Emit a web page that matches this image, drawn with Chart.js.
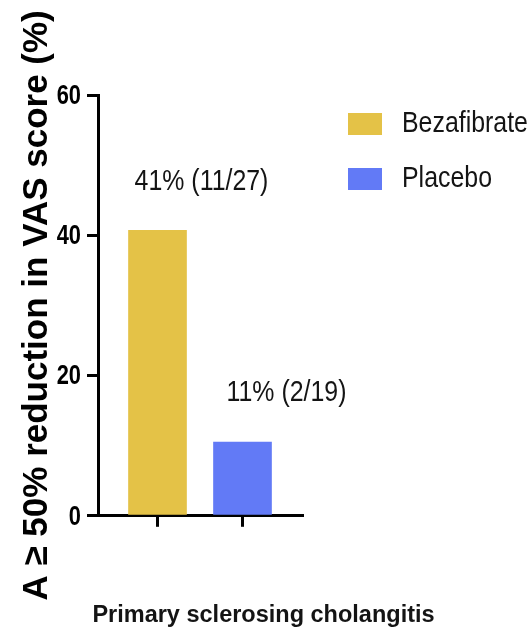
<!DOCTYPE html>
<html>
<head>
<meta charset="utf-8">
<script src="https://cdn.jsdelivr.net/npm/chart.js@4.4.1/dist/chart.umd.min.js"></script>
<style>
  html, body { margin: 0; padding: 0; background: #fff; }
  #wrap { width: 532px; height: 640px; }
</style>
</head>
<body>
<div id="wrap"><canvas id="c" width="532" height="640"></canvas></div>
<script>
// Share of patients with a >= 50% VAS score reduction, per treatment arm
const groups = ['Bezafibrate', 'Placebo'];
const percentReduced = [40.7, 10.5];
const responders = [11, 2];
const patients = [27, 19];
const yTicks = [0, 20, 40, 60];
const colours = ['#E4C247', '#627AF6'];

const FONT = "'Liberation Sans', Arial, sans-serif";
const INK = '#000';
const TEXT = '#141414';
const CONDENSE = 0.83;   // horizontal squeeze for the narrow lettering

const datasets = groups.map((g, i) => ({
  label: g,
  data: [{ x: i + 1, y: percentReduced[i] }],
  backgroundColor: colours[i],
  borderWidth: 0,
  barThickness: 58,
  grouped: false
}));

// draw text squeezed horizontally around its anchor point
function narrowText(ctx, text, x, y, font, align, squeeze) {
  ctx.save();
  ctx.font = font;
  ctx.textAlign = align;
  ctx.textBaseline = 'middle';
  ctx.translate(x, y);
  ctx.scale(squeeze, 1);
  ctx.fillText(text, 0, 0);
  ctx.restore();
}

// y tick numbers, placed from the y scale's own ticks
const yTickLabels = {
  id: 'yTickLabels',
  afterDraw(chart) {
    const s = chart.scales.y;
    const ctx = chart.ctx;
    ctx.save();
    ctx.fillStyle = INK;
    const x = s.right - s.options.grid.tickLength - 6;
    s.ticks.forEach(t => {
      narrowText(ctx, String(t.value), x, s.getPixelForValue(t.value) + 1,
        `bold 28px ${FONT}`, 'right', 0.78);
    });
    ctx.restore();
  }
};

// "41% (11/27)"-style annotation above each bar
const valueLabels = {
  id: 'valueLabels',
  afterDatasetsDraw(chart) {
    const ctx = chart.ctx;
    ctx.save();
    ctx.fillStyle = TEXT;
    chart.data.datasets.forEach((ds, i) => {
      const bar = chart.getDatasetMeta(i).data[0];
      const text = `${Math.round(percentReduced[i])}% (${responders[i]}/${patients[i]})`;
      narrowText(ctx, text, bar.x + 44, bar.y - 49, `30px ${FONT}`, 'center', CONDENSE);
    });
    ctx.restore();
  }
};

// legend block to the right of the plot
const sideLegend = {
  id: 'sideLegend',
  afterDraw(chart) {
    const ctx = chart.ctx;
    const area = chart.chartArea;
    ctx.save();
    chart.data.datasets.forEach((ds, i) => {
      const x = area.right + 46;
      const y = area.top + 18 + i * 55;
      ctx.fillStyle = ds.backgroundColor;
      ctx.fillRect(x, y, 34, 22);
      ctx.fillStyle = TEXT;
      narrowText(ctx, ds.label, x + 54, y + 11, `30px ${FONT}`, 'left', CONDENSE);
    });
    ctx.restore();
  }
};

new Chart(document.getElementById('c'), {
  type: 'bar',
  data: { datasets },
  options: {
    responsive: false,
    animation: false,
    layout: { padding: { top: 95, left: 0, right: 5, bottom: 10 } },
    plugins: {
      legend: { display: false },
      title: {
        display: true,
        position: 'bottom',
        text: 'Primary sclerosing cholangitis',
        color: TEXT,
        font: { family: FONT, size: 23.5, weight: 'bold', lineHeight: 1.2 },
        padding: { top: 75, bottom: 0 }
      },
      tooltip: { enabled: false }
    },
    scales: {
      x: {
        type: 'linear',
        min: 0.3,
        max: 2.7,
        offset: false,
        afterBuildTicks: s => { s.ticks = groups.map((_, i) => ({ value: i + 1 })); },
        ticks: { display: false },
        grid: { offset: false, drawOnChartArea: false, tickLength: 11, color: INK, lineWidth: 3 },
        border: { color: INK, width: 3 }
      },
      y: {
        min: 0,
        max: 60,
        afterBuildTicks: s => { s.ticks = yTicks.map(v => ({ value: v })); },
        ticks: { display: false },
        grid: { drawOnChartArea: false, tickLength: 11, color: INK, lineWidth: 3 },
        border: { color: INK, width: 3 },
        title: {
          display: true,
          text: 'A ≥ 50% reduction in VAS score (%)',
          color: INK,
          font: { family: FONT, size: 35, weight: 'bold', lineHeight: 1.1 },
          padding: { top: 18, bottom: 30.5 }
        }
      },
      legendSpace: {
        type: 'linear',
        position: 'right',
        display: true,
        ticks: { display: false },
        grid: { display: false },
        border: { display: false },
        afterFit: s => { s.width = 225; }
      }
    }
  },
  plugins: [yTickLabels, valueLabels, sideLegend]
});
</script>
</body>
</html>
